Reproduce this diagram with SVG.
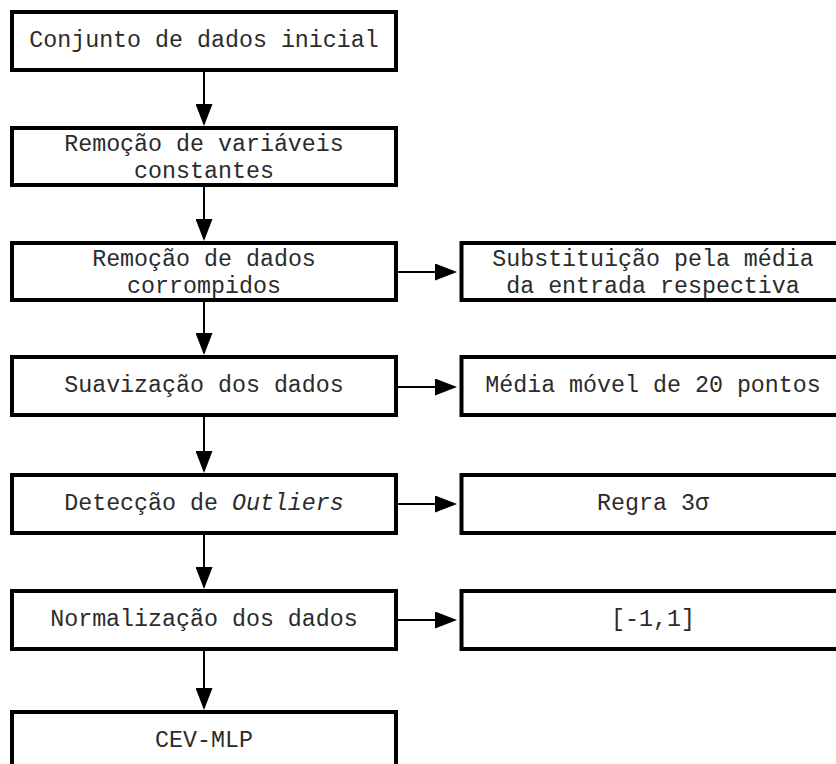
<svg xmlns="http://www.w3.org/2000/svg" width="836" height="764" viewBox="0 0 836 764">
  <style>
    .box { fill: #ffffff; stroke: #000000; stroke-width: 4; }
    .lbl { font-family: "Liberation Mono", "Courier New", monospace; font-size: 23.3px; fill: #2b2b2b; text-anchor: middle; }
    .edge { stroke: #000000; stroke-width: 2; fill: none; marker-end: url(#head); }
  </style>
  <defs>
    <marker id="head" markerUnits="userSpaceOnUse" markerWidth="22" markerHeight="17" refX="20" refY="8.5" orient="auto">
      <path d="M0,0 L22,8.5 L0,17 Z" fill="#000000"/>
    </marker>
  </defs>
  <rect width="836" height="764" fill="#ffffff"/>

  <!-- connectors -->
  <g id="connectors">
    <line class="edge" x1="204" y1="72" x2="204" y2="124"/>
    <line class="edge" x1="204" y1="187" x2="204" y2="239"/>
    <line class="edge" x1="204" y1="302" x2="204" y2="353"/>
    <line class="edge" x1="204" y1="417" x2="204" y2="471"/>
    <line class="edge" x1="204" y1="535" x2="204" y2="587"/>
    <line class="edge" x1="204" y1="651" x2="204" y2="708"/>
    <line class="edge" x1="398" y1="272" x2="455" y2="272"/>
    <line class="edge" x1="398" y1="387" x2="455" y2="387"/>
    <line class="edge" x1="398" y1="504" x2="455" y2="504"/>
    <line class="edge" x1="398" y1="620" x2="455" y2="620"/>
  </g>

  <!-- main pipeline -->
  <g id="n-conjunto">
    <rect class="box" x="12" y="12" width="384" height="58"/>
    <text class="lbl" x="204" y="47">Conjunto de dados inicial</text>
  </g>
  <g id="n-constantes">
    <rect class="box" x="12" y="128" width="384" height="57"/>
    <text class="lbl" x="204" y="150.7">Remoção de variáveis</text>
    <text class="lbl" x="204" y="178.3">constantes</text>
  </g>
  <g id="n-corrompidos">
    <rect class="box" x="12" y="243" width="384" height="57"/>
    <text class="lbl" x="204" y="265.5">Remoção de dados</text>
    <text class="lbl" x="204" y="293">corrompidos</text>
  </g>
  <g id="n-suavizacao">
    <rect class="box" x="12" y="357" width="384" height="58"/>
    <text class="lbl" x="204" y="392">Suavização dos dados</text>
  </g>
  <g id="n-outliers">
    <rect class="box" x="12" y="475" width="384" height="58"/>
    <text class="lbl" x="204" y="510">Detecção de <tspan font-style="italic">Outliers</tspan></text>
  </g>
  <g id="n-normalizacao">
    <rect class="box" x="12" y="591" width="384" height="58"/>
    <text class="lbl" x="204" y="626">Normalização dos dados</text>
  </g>
  <g id="n-cevmlp">
    <rect class="box" x="12" y="712" width="384" height="58"/>
    <text class="lbl" x="204" y="747">CEV-MLP</text>
  </g>

  <!-- side details -->
  <g id="n-substituicao">
    <rect class="box" x="461.5" y="243" width="384" height="57"/>
    <text class="lbl" x="653" y="265.5">Substituição pela média</text>
    <text class="lbl" x="653" y="293">da entrada respectiva</text>
  </g>
  <g id="n-media-movel">
    <rect class="box" x="461.5" y="357" width="384" height="58"/>
    <text class="lbl" x="653" y="392">Média móvel de 20 pontos</text>
  </g>
  <g id="n-regra">
    <rect class="box" x="461.5" y="475" width="384" height="58"/>
    <text class="lbl" x="653" y="510">Regra 3σ</text>
  </g>
  <g id="n-intervalo">
    <rect class="box" x="461.5" y="591" width="384" height="58"/>
    <text class="lbl" x="653" y="626">[-1,1]</text>
  </g>
</svg>
